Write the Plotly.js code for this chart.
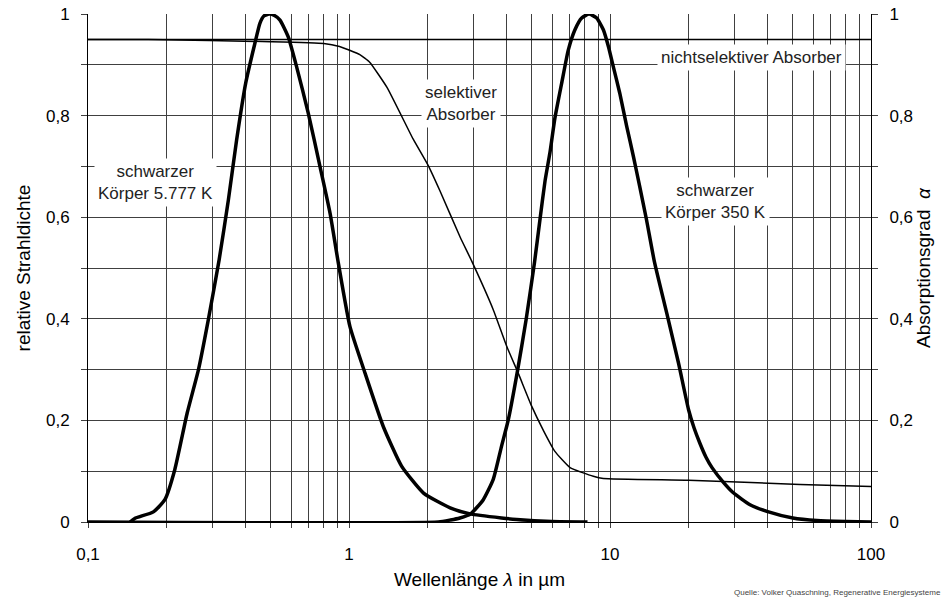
<!DOCTYPE html>
<html>
<head>
<meta charset="utf-8">
<script src="https://cdn.plot.ly/plotly-3.0.1.min.js"></script>
<style>
  html, body { margin: 0; padding: 0; background: #fff; }
  #chart { width: 945px; height: 600px; }
</style>
</head>
<body>
<div id="chart"></div>
<script>
// Black body at 5777 K (sun), relative spectral radiance
const sunLambda = [0.145, 0.151, 0.178, 0.197, 0.215, 0.240, 0.265, 0.289, 0.318,
  0.345, 0.371, 0.402, 0.433, 0.456, 0.472, 0.494, 0.518, 0.544, 0.585, 0.630, 0.698,
  0.774, 0.846, 0.910, 1.008, 1.152, 1.353, 1.59, 1.93, 2.44, 2.91, 3.84, 4.39, 6.0, 8.2];
const sunRadiance = [0, 0.007, 0.02, 0.044, 0.103, 0.215, 0.30, 0.398, 0.516,
  0.634, 0.752, 0.864, 0.936, 0.982, 0.996, 1.0, 0.997, 0.988, 0.955, 0.896, 0.805,
  0.700, 0.608, 0.510, 0.385, 0.293, 0.188, 0.110, 0.057, 0.028, 0.016, 0.008, 0.005,
  0.001, 0];

// Black body at 350 K (absorber surface), relative spectral radiance
const bodyLambda = [0.1, 2.2, 2.45, 2.66, 2.91, 3.27, 3.57, 3.84, 4.08, 4.42, 4.77, 5.14,
  5.39, 5.64, 5.89, 6.15, 6.53, 6.92, 7.34, 7.79, 8.31, 8.89, 9.43, 9.86, 10.3, 10.9,
  11.6, 12.3, 13.0, 13.8, 14.8, 16.5, 18.3, 20.0, 21.0, 22.1, 23.3, 24.6, 27.2, 29.6,
  34.4, 39.9, 50.2, 62.1, 80, 100];
const bodyRadiance = [0, 0, 0.004, 0.008, 0.015, 0.044, 0.084, 0.149, 0.202, 0.297,
  0.398, 0.512, 0.595, 0.672, 0.728, 0.795, 0.864, 0.929, 0.969, 0.992, 1.0, 0.992,
  0.969, 0.936, 0.896, 0.844, 0.778, 0.719, 0.660, 0.595, 0.512, 0.411, 0.313, 0.221,
  0.185, 0.155, 0.128, 0.107, 0.078, 0.058, 0.034, 0.021, 0.008, 0.003, 0.001, 0];

// Selective absorber: absorption coefficient
const selLambda = [0.1, 0.17, 0.5, 0.8, 0.92, 1.0, 1.1, 1.2, 1.4, 1.76, 2.01, 2.23, 2.67,
  2.95, 3.57, 4.02, 4.45, 5.01, 5.56, 6.15, 7.03, 8.63, 9.43, 20, 53.5, 100];
const selAlpha = [0.95, 0.95, 0.9455, 0.942, 0.936, 0.929, 0.92, 0.905, 0.855, 0.754,
  0.702, 0.652, 0.560, 0.514, 0.418, 0.346, 0.293, 0.228, 0.180, 0.139, 0.107, 0.090,
  0.0855, 0.082, 0.074, 0.070];

// Non-selective absorber: constant absorption coefficient
const nonSelLambda = [0.1, 100];
const nonSelAlpha = [0.95, 0.95];

// Axis ticks
const xTickVals = [];
const xTickText = [];
[0.1, 1, 10].forEach(function (dec) {
  for (let m = 1; m <= 9; m++) {
    xTickVals.push(+(m * dec).toPrecision(3));
    xTickText.push(m === 1 ? String(dec).replace('.', ',') : '');
  }
});
xTickVals.push(100);
xTickText.push('100');

const yTickVals = [0, 0.1, 0.2, 0.3, 0.4, 0.5, 0.6, 0.7, 0.8, 0.9, 1];
const yTickText = ['0', '', '0,2', '', '0,4', '', '0,6', '', '0,8', '', '1'];

const FONT = 'Liberation Sans, Arial, sans-serif';
const GRID = '#404040';

const traces = [
  { x: nonSelLambda, y: nonSelAlpha, yaxis: 'y2', mode: 'lines',
    line: { color: '#000', width: 1.5 }, hoverinfo: 'skip' },
  { x: selLambda, y: selAlpha, yaxis: 'y2', mode: 'lines',
    line: { color: '#000', width: 1.5, shape: 'spline', smoothing: 0.4 }, hoverinfo: 'skip' },
  { x: sunLambda, y: sunRadiance, mode: 'lines',
    line: { color: '#000', width: 3.5, shape: 'spline', smoothing: 0.5 }, hoverinfo: 'skip' },
  { x: bodyLambda, y: bodyRadiance, mode: 'lines',
    line: { color: '#000', width: 3.5, shape: 'spline', smoothing: 0.5 }, hoverinfo: 'skip' }
];

function label(text, lx, y) {
  return {
    text: text, xref: 'x', yref: 'y', x: lx, y: y,
    showarrow: false, bgcolor: '#fff', borderpad: 3,
    font: { family: FONT, size: 17, color: '#222' }, align: 'center'
  };
}

const layout = {
  width: 945, height: 600,
  margin: { l: 88, r: 74, t: 14, b: 78 },
  paper_bgcolor: '#fff', plot_bgcolor: '#fff',
  showlegend: false,
  font: { family: FONT, size: 16, color: '#000' },
  xaxis: {
    type: 'log', range: [-1, 2],
    tickmode: 'array', tickvals: xTickVals, ticktext: xTickText,
    ticks: 'outside', ticklen: 5, tickcolor: GRID, ticklabelstandoff: 12,
    showgrid: true, gridcolor: GRID, gridwidth: 1,
    showline: true, linecolor: '#000', linewidth: 1, zeroline: false,
    tickfont: { family: FONT, size: 17, color: '#000' },
    title: { text: 'Wellenlänge <i>λ</i> in µm', standoff: 9,
      font: { family: FONT, size: 19, color: '#000' } }
  },
  yaxis: {
    range: [0, 1],
    tickmode: 'array', tickvals: yTickVals, ticktext: yTickText,
    ticks: 'outside', ticklen: 6, tickcolor: GRID, ticklabelstandoff: 8,
    showgrid: true, gridcolor: GRID, gridwidth: 1,
    showline: true, linecolor: '#000', linewidth: 1, zeroline: false,
    tickfont: { family: FONT, size: 17, color: '#000' },
    title: { text: 'relative Strahldichte', standoff: 10,
      font: { family: FONT, size: 19, color: '#000' } }
  },
  yaxis2: {
    overlaying: 'y', side: 'right', range: [0, 1],
    tickmode: 'array', tickvals: yTickVals, ticktext: yTickText,
    ticks: 'outside', ticklen: 6, tickcolor: GRID, ticklabelstandoff: 8,
    showgrid: false, showline: true, linecolor: '#000', linewidth: 1, zeroline: false,
    tickfont: { family: FONT, size: 17, color: '#000' },
    title: { text: 'Absorptionsgrad  <i>α</i>', standoff: 2,
      font: { family: FONT, size: 19, color: '#000' } }
  },
  annotations: [
    label('schwarzer<br>Körper 5.777 K', -0.743, 0.668),
    label('selektiver<br>Absorber', 0.429, 0.823),
    label('nichtselektiver Absorber', 1.544, 0.915),
    label('schwarzer<br>Körper 350 K', 1.406, 0.630),
    { text: 'Quelle: Volker Quaschning, Regenerative Energiesysteme',
      xref: 'paper', yref: 'paper', x: 1.092, y: -0.1516, xanchor: 'right', yanchor: 'bottom',
      showarrow: false, font: { family: FONT, size: 8, color: '#444' } }
  ]
};

Plotly.newPlot('chart', traces, layout, { displayModeBar: false, staticPlot: true });
</script>
</body>
</html>
